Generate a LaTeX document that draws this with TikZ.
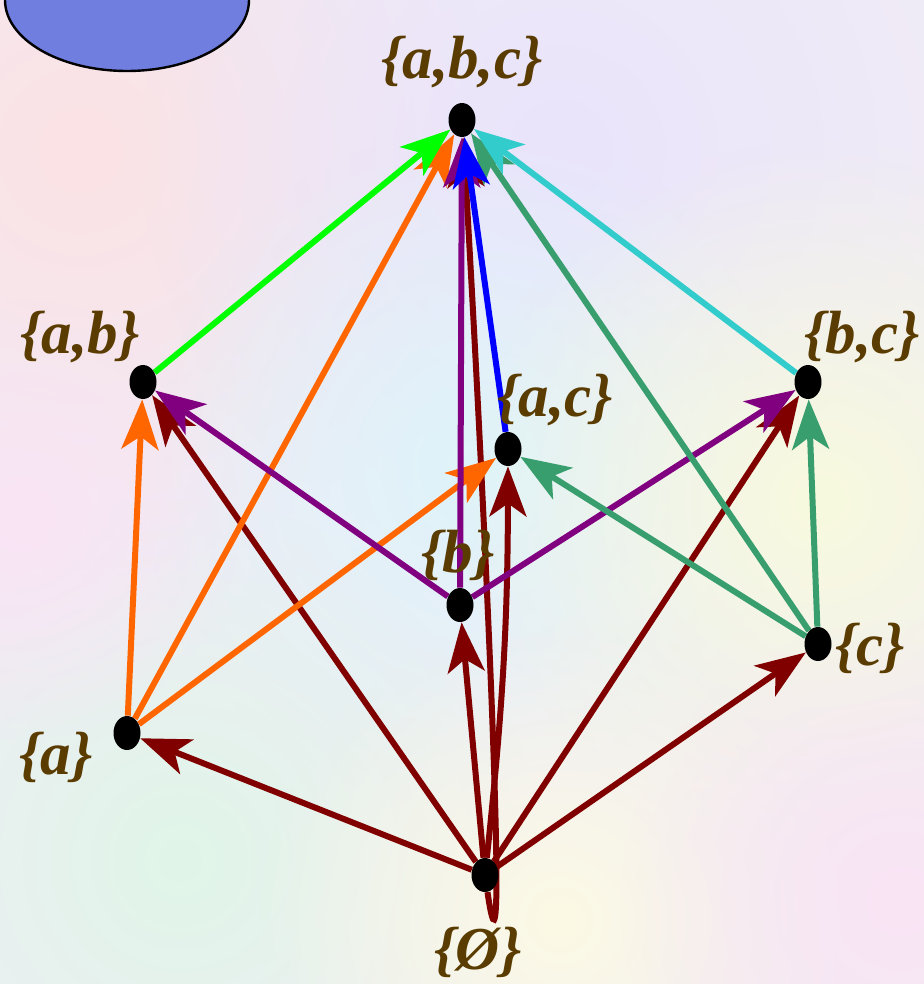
\documentclass[tikz,border=0pt]{standalone}
\usepackage{fontspec}
\setmainfont{Liberation Serif}
\usetikzlibrary{arrows.meta,shapes.geometric,fadings}
\definecolor{labbrown}{RGB}{90,60,0}
\definecolor{cgreen}{RGB}{0,255,0}
\definecolor{corange}{RGB}{255,102,0}
\definecolor{cpurple}{RGB}{128,0,128}
\definecolor{cblue}{RGB}{0,0,255}
\definecolor{cdred}{RGB}{128,0,0}
\definecolor{cteal}{RGB}{56,158,110}
\definecolor{ccyan}{RGB}{51,204,204}
\definecolor{cblob}{RGB}{112,126,224}
\definecolor{bgbase}{RGB}{240,236,246}
\definecolor{bgpink}{RGB}{252,226,228}
\definecolor{bglav}{RGB}{234,228,252}
\definecolor{bgcyan}{RGB}{222,244,250}
\definecolor{bgyel}{RGB}{248,250,222}
\definecolor{bggreen}{RGB}{224,246,232}
\definecolor{bgcream}{RGB}{252,250,228}
\definecolor{bgmag}{RGB}{250,228,244}
\tikzfading[name=softcircle, inner color=transparent!0, outer color=transparent!100]
\pgfdeclarelayer{bg}
\pgfdeclarelayer{edges}
\pgfsetlayers{bg,edges,main}
\tikzset{
  dot/.style={ellipse, fill=black, minimum width=13.5pt, minimum height=17pt, inner sep=0pt},
  lab/.style={text=labbrown, font=\bfseries\itshape\fontsize{30.5}{36}\selectfont, inner sep=0pt},
  arr/.style={line width=3pt, -{Stealth[length=25pt,width=18.5pt,inset=6.5pt]}},
  blur/.style={path fading=softcircle}
}
\begin{document}
\begin{tikzpicture}[x=0.5pt,y=-0.5pt]
\useasboundingbox (0,0) rectangle (924,984);
\begin{pgfonlayer}{bg}
  \clip (0,0) rectangle (924,984);
  \fill[bgbase] (0,0) rectangle (924,984);
  \fill[blur, bgpink] (80,150) circle (420);
  \fill[blur, bglav] (560,150) circle (420);
  \fill[blur, bgcyan] (480,470) circle (340);
  \fill[blur, bgyel] (820,500) circle (360);
  \fill[blur, bggreen] (180,860) circle (360);
  \fill[blur, bgcream] (560,920) circle (300);
  \fill[blur, bgmag] (900,900) circle (280);
  \fill[blur, bgmag] (20,520) circle (220);
  \node[ellipse, draw=black, line width=1.2pt, fill=cblob, minimum width=122pt, minimum height=71pt] (blob) at (127,0) {};
\end{pgfonlayer}

% dots
\node[dot] (abc) at (462,120) {};
\node[dot] (ab)  at (143,382) {};
\node[dot] (ac)  at (508,449) {};
\node[dot] (bc)  at (808,382) {};
\node[dot] (b)   at (460,605) {};
\node[dot] (a)   at (127,733) {};
\node[dot] (c)   at (818,644) {};
\node[dot] (e)   at (485,875) {};

% labels
\node[lab] (labc) at (462,62) {\{a,b,c\}};
\node[lab] (lab)  at (80,337) {\{a,b\}};
\node[lab] (lac)  at (555,400) {\{a,c\}};
\node[lab] (lbc)  at (862,337) {\{b,c\}};
\node[lab] (lb)   at (458,555) {\{b\}};
\node[lab] (la)   at (56,757) {\{a\}};
\node[lab] (lc)   at (870,648) {\{c\}};
\node[lab] (le)   at (478,952) {\{Ø\}};

\begin{pgfonlayer}{edges}
  % from empty set
  \draw[arr, cdred] (e) -- (a);
  \draw[arr, cdred] (e) -- (c);
  \draw[arr, cdred] (e) -- (ab);
  \draw[arr, cdred] (e) -- (bc);
  \draw[arr, cdred] (e) -- (b);
  \draw[arr, cdred] (e) to[bend right=3] (ac);
  \draw[arr, cdred] (e) .. controls (512,1060) and (480,420) .. (abc);
  % from a
  \draw[arr, corange] (a) -- (ab);
  \draw[arr, corange] (a) -- (ac);
  \draw[arr, corange] (a) -- (abc);
  % from b
  \draw[arr, cpurple] (b) -- (ab);
  \draw[arr, cpurple] (b) -- (bc);
  \draw[arr, cpurple] (b) -- (abc);
  % from c
  \draw[arr, cteal] (c) -- (bc);
  \draw[arr, cteal] (c) -- (ac);
  \draw[arr, cteal] (c) -- (abc);
  % pairs to top
  \draw[arr, cgreen] (ab) -- (abc);
  \draw[arr, cblue] (ac) -- (abc);
  \draw[arr, ccyan] (bc) -- (abc);
\end{pgfonlayer}
\end{tikzpicture}
\end{document}
